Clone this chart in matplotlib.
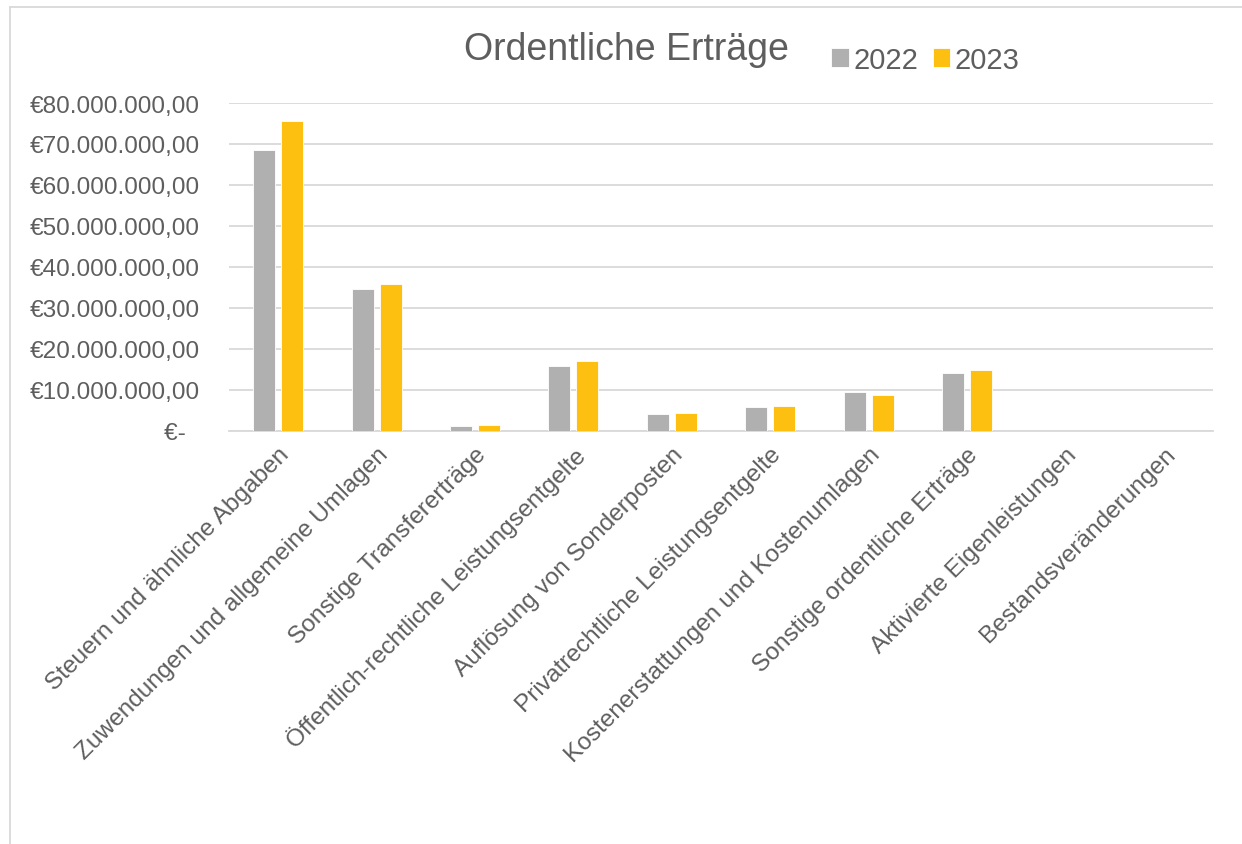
import numpy as np
import matplotlib
matplotlib.use("Agg")
import matplotlib.pyplot as plt
from matplotlib.ticker import FuncFormatter

# categories and values (Euro)
categories = [
    "Steuern und ähnliche Abgaben",
    "Zuwendungen und allgemeine Umlagen",
    "Sonstige Transfererträge",
    "Öffentlich-rechtliche Leistungsentgelte",
    "Auflösung von Sonderposten",
    "Privatrechtliche Leistungsentgelte",
    "Kostenerstattungen und Kostenumlagen",
    "Sonstige ordentliche Erträge",
    "Aktivierte Eigenleistungen",
    "Bestandsveränderungen",
]
values_2022 = [68.6e6, 34.6e6, 1.1e6, 15.7e6, 4.0e6, 5.8e6, 9.4e6, 14.1e6, 0, 0]
values_2023 = [75.7e6, 35.7e6, 1.35e6, 17.0e6, 4.2e6, 6.1e6, 8.75e6, 14.8e6, 0, 0]
years = ["2022", "2023"]

plt.rcParams["font.family"] = ["Liberation Sans", "DejaVu Sans"]
text_color = "#5E5E5E"
grid_color = "#D9D9D9"
gray = "#B0B0B0"
yellow = "#FEC010"

fig = plt.figure(figsize=(12.42, 8.45), dpi=100)
ax = fig.add_axes([229 / 1242, 1 - 431.5 / 845, 984 / 1242, (431.5 - 104) / 845])

x = np.arange(len(categories))
w = 0.224
off = 0.142
ax.bar(x - off, values_2022, w, color=gray, edgecolor="white", linewidth=0.6, label=years[0], zorder=3)
ax.bar(x + off, values_2023, w, color=yellow, edgecolor="white", linewidth=0.6, label=years[1], zorder=3)

ax.set_xlim(-0.5, len(categories) - 0.5)
ax.set_ylim(0, 80e6)
ax.set_yticks(np.arange(0, 80e6 + 1, 10e6))


# euro format like excel accounting format
def euro(v, pos):
    if v == 0:
        return "€-  "
    s = f"{v:,.2f}".replace(",", "X").replace(".", ",").replace("X", ".")
    return "€" + s


ax.yaxis.set_major_formatter(FuncFormatter(euro))
ax.grid(axis="y", color=grid_color, linewidth=1.3, zorder=0)
for side in ["top", "right", "left"]:
    ax.spines[side].set_visible(False)
ax.spines["bottom"].set_color(grid_color)
ax.spines["bottom"].set_linewidth(1.3)
ax.tick_params(axis="y", length=0, pad=21, labelsize=17.6, labelcolor=text_color)
ax.tick_params(axis="x", length=0, pad=9, labelsize=17.6, labelcolor=text_color)
ax.set_xticks(x)
ax.set_xticklabels(categories, rotation=45, ha="right", va="top", rotation_mode="anchor")

fig.text(626 / 1242, 1 - 50 / 845, "Ordentliche Erträge", ha="center", va="center",
         fontsize=27, color=text_color)
fig.legend(loc="center left", bbox_to_anchor=(805 / 1242, 1 - 61 / 845), ncol=2, frameon=False,
           fontsize=21, labelcolor=text_color, handlelength=0.6, handleheight=0.6,
           handletextpad=0.15, columnspacing=0.5)

# outer chart border (only top and left visible in the crop)
fig.add_artist(plt.Line2D([10 / 1242, 1], [1 - 8 / 845, 1 - 8 / 845], color=grid_color, linewidth=1.3))
fig.add_artist(plt.Line2D([10 / 1242, 10 / 1242], [0, 1 - 8 / 845], color=grid_color, linewidth=1.3))

fig.savefig("out.png", dpi=100)
